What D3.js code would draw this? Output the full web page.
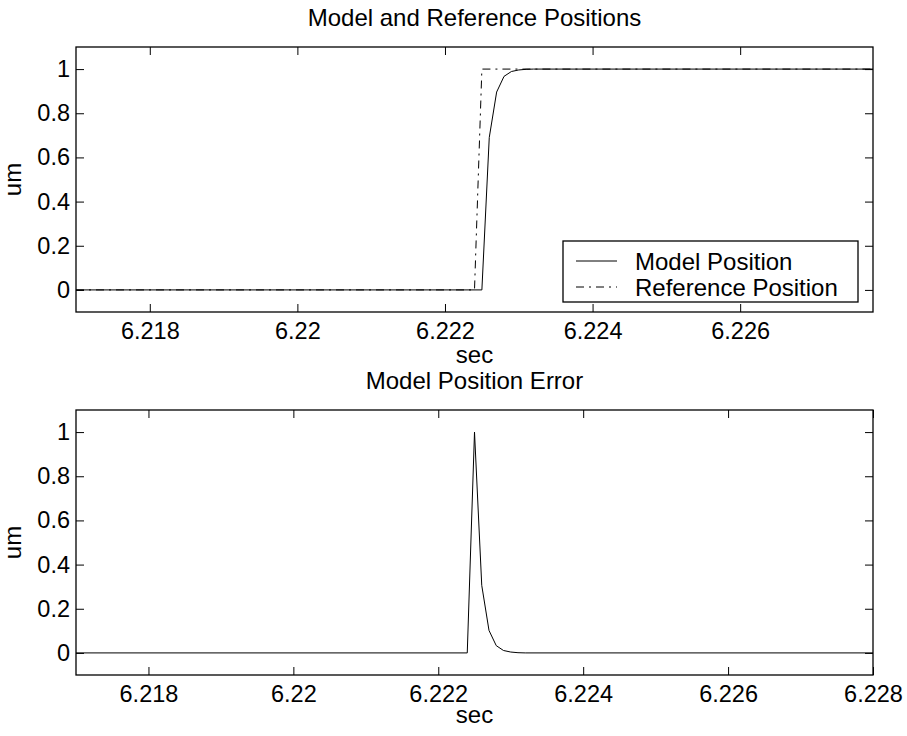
<!DOCTYPE html>
<html>
<head>
<meta charset="utf-8">
<script src="https://cdn.jsdelivr.net/npm/d3@7"></script>
<style>
  html, body { margin: 0; padding: 0; background: #fff; }
  svg text { font-family: "Liberation Sans", Arial, Helvetica, sans-serif; fill: #000; }
</style>
</head>
<body>
<svg id="chart" width="907" height="736"></svg>
<script>
// ---------- data ----------
const refTime   = [6.217, 6.2224, 6.2225, 6.2278];
const refValue  = [0, 0, 1, 1];

const modelTime  = [6.217, 6.2225, 6.2226, 6.2227, 6.2228, 6.2229, 6.2230, 6.2231, 6.2232, 6.2278];
const modelValue = [0, 0, 0.69, 0.896, 0.967, 0.989, 0.996, 0.999, 1, 1];

const errTime  = [6.217, 6.2224, 6.2225, 6.2226, 6.2227, 6.2228, 6.2229, 6.2230, 6.2231, 6.2232, 6.228];
const errValue = [0, 0, 1, 0.306, 0.102, 0.033, 0.011, 0.004, 0.001, 0, 0];

const topXDomain = [6.217, 6.2278];
const botXDomain = [6.217, 6.228];
const yDomain = [-0.1, 1.1];
const topXTicks = [6.218, 6.22, 6.222, 6.224, 6.226];
const botXTicks = [6.218, 6.22, 6.222, 6.224, 6.226, 6.228];
const yTicks = [0, 0.2, 0.4, 0.6, 0.8, 1];
const topTitle = "Model and Reference Positions";
const botTitle = "Model Position Error";
const xLabel = "sec";
const yLabel = "um";
const legendLabels = ["Model Position", "Reference Position"];

// ---------- layout ----------
const svg = d3.select("#chart");
const FS = 24;
const TICK_FS = 23.5;
const left = 76, right = 873;
const panels = [
  { top: 47, bottom: 312, xDomain: topXDomain, xTicks: topXTicks, title: topTitle, titleY: 26, secY: 363 },
  { top: 410, bottom: 675, xDomain: botXDomain, xTicks: botXTicks, title: botTitle, titleY: 389, secY: 723 }
];
const tickLen = 8;
const dashDot = "8,5,2,5";

function fmt(v) { return String(+v.toFixed(4)); }

panels.forEach((p, i) => {
  const x = d3.scaleLinear().domain(p.xDomain).range([left, right]);
  const y = d3.scaleLinear().domain(yDomain).range([p.bottom, p.top]);
  const g = svg.append("g");

  const clipId = "clip" + i;
  svg.append("clipPath").attr("id", clipId).append("rect")
    .attr("x", left).attr("y", p.top).attr("width", right - left).attr("height", p.bottom - p.top);

  const xb = d3.axisBottom(x).tickValues(p.xTicks).tickSize(-tickLen).tickPadding(10).tickFormat(fmt);
  const xt = d3.axisTop(x).tickValues(p.xTicks).tickSize(-tickLen).tickFormat("");
  const yl = d3.axisLeft(y).tickValues(yTicks).tickSize(-tickLen).tickPadding(6).tickFormat(fmt);
  const yr = d3.axisRight(y).tickValues(yTicks).tickSize(-tickLen).tickFormat("");

  const gxb = g.append("g").attr("transform", `translate(0,${p.bottom})`).call(xb);
  const gxt = g.append("g").attr("transform", `translate(0,${p.top})`).call(xt);
  const gyl = g.append("g").attr("transform", `translate(${left},0)`).call(yl);
  const gyr = g.append("g").attr("transform", `translate(${right},0)`).call(yr);
  [gxb, gxt, gyl, gyr].forEach(a => {
    a.select(".domain").remove();
    a.selectAll("line").attr("stroke", "#000").attr("stroke-width", 1);
    a.selectAll("text").style("font-size", TICK_FS + "px").style("font-family", "Liberation Sans, Arial, sans-serif").attr("fill", "#000");
  });
  gxb.selectAll("text").attr("dy", "0.71em");

  g.append("rect").attr("x", left).attr("y", p.top)
    .attr("width", right - left).attr("height", p.bottom - p.top)
    .attr("fill", "none").attr("stroke", "#000").attr("stroke-width", 1.3);

  svg.append("text").attr("x", (left + right) / 2).attr("y", p.titleY)
    .attr("text-anchor", "middle").style("font-size", FS + "px").text(p.title);
  svg.append("text").attr("x", (left + right) / 2).attr("y", p.secY)
    .attr("text-anchor", "middle").style("font-size", FS + "px").text(xLabel);
  svg.append("text")
    .attr("transform", `translate(21,${(p.top + p.bottom) / 2}) rotate(-90)`)
    .attr("text-anchor", "middle").style("font-size", FS + "px").text(yLabel);

  const line = d3.line().x(d => x(d[0])).y(d => y(d[1]));
  const lg = svg.append("g").attr("clip-path", `url(#${clipId})`);

  if (i === 0) {
    const model = modelTime.map((t, k) => [t, modelValue[k]]);
    const ref = refTime.map((t, k) => [t, refValue[k]]);
    lg.append("path").datum(model).attr("d", line)
      .attr("fill", "none").attr("stroke", "#000").attr("stroke-width", 1);
    lg.append("path").datum(ref).attr("d", line)
      .attr("fill", "none").attr("stroke", "#000").attr("stroke-width", 1)
      .attr("stroke-dasharray", dashDot);

    const lx = 563, ly = 241, lw = 295, lh = 61;
    const leg = svg.append("g");
    leg.append("rect").attr("x", lx).attr("y", ly).attr("width", lw).attr("height", lh)
      .attr("fill", "#fff").attr("stroke", "#000").attr("stroke-width", 1.3);
    const rows = [{ y: ly + 20, dash: null }, { y: ly + 46, dash: dashDot }];
    rows.forEach((r, k) => {
      const ln = leg.append("line").attr("x1", lx + 13).attr("x2", lx + 54)
        .attr("y1", r.y).attr("y2", r.y).attr("stroke", "#000").attr("stroke-width", 1);
      if (r.dash) ln.attr("stroke-dasharray", r.dash);
      leg.append("text").attr("x", lx + 72).attr("y", r.y).attr("dy", "0.36em")
        .style("font-size", FS + "px").text(legendLabels[k]);
    });
  } else {
    const err = errTime.map((t, k) => [t, errValue[k]]);
    lg.append("path").datum(err).attr("d", line)
      .attr("fill", "none").attr("stroke", "#000").attr("stroke-width", 1);
  }
});
</script>
</body>
</html>
